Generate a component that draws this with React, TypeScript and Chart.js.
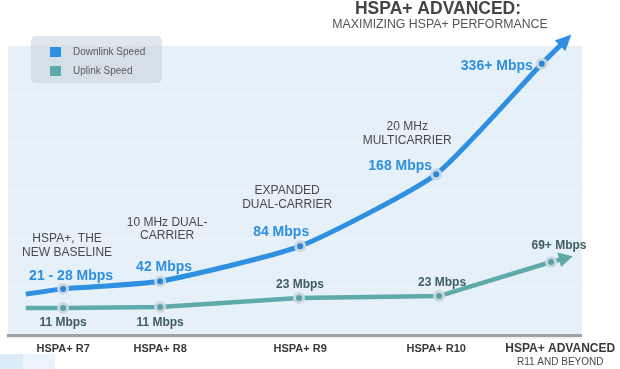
import React, { useEffect, useRef } from "react";
import { Chart, registerables } from "chart.js";

Chart.register(...registerables);

// ---------- data ----------
const categories = ["HSPA+ R7", "HSPA+ R8", "HSPA+ R9", "HSPA+ R10", "HSPA+ ADVANCED"];
const categorySubLabels = ["", "", "", "", "R11 AND BEYOND"];
const categoryPositions = [9.6, 26.5, 50.9, 74.6, 96.2]; // % across the plot

// visual height of each point (plot is 6 grid bands high)
const downlinkX = [3.1, 9.6, 26.5, 50.9, 74.6, 93.0, 96.3];
const downlinkY = [0.83, 0.94, 1.1, 1.83, 3.33, 5.63, 6.02];
const downlinkLabels = ["", "21 - 28 Mbps", "42 Mbps", "84 Mbps", "168 Mbps", "336+ Mbps", ""];
const downlinkNotes = [
  [],
  ["HSPA+, THE", "NEW BASELINE"],
  ["10 MHz DUAL-", "CARRIER"],
  ["EXPANDED", "DUAL-CARRIER"],
  ["20 MHz", "MULTICARRIER"],
  [],
  [],
];

const uplinkX = [3.1, 9.6, 26.5, 50.7, 75.1, 94.6, 96.2];
const uplinkY = [0.54, 0.54, 0.56, 0.75, 0.79, 1.5, 1.55];
const uplinkLabels = ["", "11 Mbps", "11 Mbps", "23 Mbps", "23 Mbps", "69+ Mbps", ""];

const gridValues = [1, 2, 3, 4, 5];

// ---------- styles ----------
const FONT = '"Liberation Sans", Arial, Helvetica, sans-serif';
const BLUE = "#2f8fe0";
const TEAL = "#5ea9aa";
const downValueOffsets = [null, [8, -13], [4, -14], [-19, -14], [-36, -8], [-45, 2], null];
const downNoteOffsets = [null, [4, -50], [7, -59], [-13, -55], [-29, -47], null, null];
const upValueOffsets = [null, [0, 15], [0, 16], [1, -13], [3, -13], [8, -16], null];
const arrowLens = [15, 13];

const backgroundPlugin = {
  id: "bgPlugin",
  beforeDraw(chart: any) {
    const { ctx, chartArea: a, scales } = chart;
    ctx.save();
    ctx.fillStyle = "#ffffff";
    ctx.fillRect(0, 0, chart.width, chart.height);
    ctx.fillStyle = "#e6f0f9";
    ctx.fillRect(a.left, a.top, a.right - a.left, a.bottom - a.top);
    ctx.strokeStyle = "rgba(255,255,255,0.35)";
    ctx.lineWidth = 1;
    for (const v of gridValues) {
      const y = Math.round(scales.y.getPixelForValue(v)) + 0.5;
      ctx.beginPath();
      ctx.moveTo(a.left, y);
      ctx.lineTo(a.right, y);
      ctx.stroke();
    }
    // bottom rule
    ctx.fillStyle = "#a2a2a2";
    ctx.fillRect(a.left - 1, a.bottom, a.right - a.left + 1, 3);
    ctx.fillStyle = "rgba(0,0,0,0.06)";
    ctx.fillRect(a.left - 1, a.bottom + 3, a.right - a.left + 1, 2);
    // small tiles bottom-left
    ctx.fillStyle = "#ddebf8";
    ctx.fillRect(0, 354, 23, 15);
    ctx.fillStyle = "#ebf4fc";
    ctx.fillRect(23, 354, 32, 15);
    ctx.restore();
  },
};

const arrowPlugin = {
  id: "arrowPlugin",
  afterDatasetsDraw(chart: any) {
    const { ctx } = chart;
    chart.data.datasets.forEach((ds: any, i: number) => {
      const pts = chart.getDatasetMeta(i).data;
      const n = pts.length;
      const b = pts[n - 1];
      const p = pts[n - 2];
      const dx = b.x - p.x;
      const dy = b.y - p.y;
      const len = Math.hypot(dx, dy) || 1;
      const ux = dx / len;
      const uy = dy / len;
      const L = arrowLens[i];
      const W = 7.5;
      const tx = b.x + ux * L;
      const ty = b.y + uy * L;
      const bx = b.x - ux * 1;
      const by = b.y - uy * 1;
      ctx.save();
      ctx.fillStyle = ds.borderColor;
      ctx.beginPath();
      ctx.moveTo(tx, ty);
      ctx.lineTo(bx - uy * W, by + ux * W);
      ctx.lineTo(bx + uy * W, by - ux * W);
      ctx.closePath();
      ctx.fill();
      ctx.restore();
    });
  },
};

const textPlugin = {
  id: "textPlugin",
  afterDraw(chart: any) {
    const { ctx, chartArea: a, scales } = chart;
    ctx.save();
    ctx.textAlign = "center";
    ctx.textBaseline = "middle";

    // title
    ctx.fillStyle = "#454545";
    ctx.font = `bold 17.5px ${FONT}`;
    ctx.fillText("HSPA+ ADVANCED:", 438, 9);
    ctx.fillStyle = "#555555";
    ctx.font = `12.3px ${FONT}`;
    ctx.fillText("MAXIMIZING HSPA+ PERFORMANCE", 440, 25);

    const down = chart.getDatasetMeta(0).data;
    const up = chart.getDatasetMeta(1).data;

    // downlink values
    ctx.fillStyle = BLUE;
    ctx.font = `bold 14px ${FONT}`;
    downlinkLabels.forEach((t, i) => {
      const o = downValueOffsets[i];
      if (!t || !o) return;
      ctx.fillText(t, down[i].x + o[0], down[i].y + o[1]);
    });

    // notes
    ctx.fillStyle = "#4a4a4a";
    ctx.font = `12px ${FONT}`;
    downlinkNotes.forEach((lines, i) => {
      const o = downNoteOffsets[i];
      if (!lines.length || !o) return;
      lines.forEach((t, k) => {
        ctx.fillText(t, down[i].x + o[0], down[i].y + o[1] + k * 13.5);
      });
    });

    // uplink values
    ctx.fillStyle = "#3f5c61";
    ctx.font = `bold 12px ${FONT}`;
    uplinkLabels.forEach((t, i) => {
      const o = upValueOffsets[i];
      if (!t || !o) return;
      ctx.fillText(t, up[i].x + o[0], up[i].y + o[1]);
    });

    // category labels
    ctx.fillStyle = "#3a3a3a";
    categories.forEach((c, i) => {
      const x = scales.x.getPixelForValue(categoryPositions[i]);
      ctx.font = i === categories.length - 1 ? `bold 12px ${FONT}` : `bold 11px ${FONT}`;
      ctx.fillText(c, x, a.bottom + 15);
      if (categorySubLabels[i]) {
        ctx.fillStyle = "#4a4a4a";
        ctx.font = `10px ${FONT}`;
        ctx.fillText(categorySubLabels[i], x, a.bottom + 28);
        ctx.fillStyle = "#3a3a3a";
      }
    });

    // legend
    const lx = 31, ly = 36, lw = 131, lh = 47;
    ctx.fillStyle = "rgba(196,205,216,0.5)";
    ctx.beginPath();
    (ctx as any).roundRect(lx, ly, lw, lh, 5);
    ctx.fill();
    ctx.textAlign = "left";
    ctx.font = `10px ${FONT}`;
    chart.data.datasets.forEach((ds: any, i: number) => {
      const y = ly + 16 + i * 19;
      ctx.fillStyle = ds.borderColor;
      ctx.fillRect(lx + 19, y - 5, 11, 10);
      ctx.fillStyle = "#5a5a5a";
      ctx.fillText(ds.label, lx + 42, y);
    });
    ctx.restore();
  },
};

export default function App() {
  const ref = useRef<HTMLCanvasElement>(null);
  useEffect(() => {
    if (!ref.current) return;
    const chart = new Chart(ref.current, {
      type: "line",
      data: {
        datasets: [
          {
            label: "Downlink Speed",
            data: downlinkX.map((x, i) => ({ x, y: downlinkY[i] })),
            borderColor: BLUE,
            backgroundColor: BLUE,
            borderWidth: 5,
            tension: 0.18,
            clip: false as any,
            pointRadius: downlinkLabels.map((t) => (t ? 4.5 : 0)),
            pointBackgroundColor: "#2a86d8",
            pointBorderColor: "rgba(206,216,226,0.95)",
            pointBorderWidth: 3,
          },
          {
            label: "Uplink Speed",
            data: uplinkX.map((x, i) => ({ x, y: uplinkY[i] })),
            borderColor: TEAL,
            backgroundColor: TEAL,
            borderWidth: 4.5,
            tension: 0,
            clip: false as any,
            pointRadius: uplinkLabels.map((t) => (t ? 4.5 : 0)),
            pointBackgroundColor: "#5aa3a5",
            pointBorderColor: "rgba(206,216,222,0.95)",
            pointBorderWidth: 3,
          },
        ],
      },
      options: {
        responsive: false,
        animation: false,
        devicePixelRatio: 1,
        layout: { padding: { left: 8, right: 38, top: 46, bottom: 35 } },
        scales: {
          x: { type: "linear", min: 0, max: 100, display: false },
          y: { type: "linear", min: 0, max: 6, display: false },
        },
        plugins: { legend: { display: false }, tooltip: { enabled: false } },
        events: [],
      },
      plugins: [backgroundPlugin, arrowPlugin, textPlugin],
    });
    return () => chart.destroy();
  }, []);
  return (
    <div style={{ position: "fixed", left: 0, top: 0, width: 620, height: 369, background: "#fff" }}>
      <canvas ref={ref} width={620} height={369} style={{ display: "block", width: 620, height: 369 }} />
    </div>
  );
}
